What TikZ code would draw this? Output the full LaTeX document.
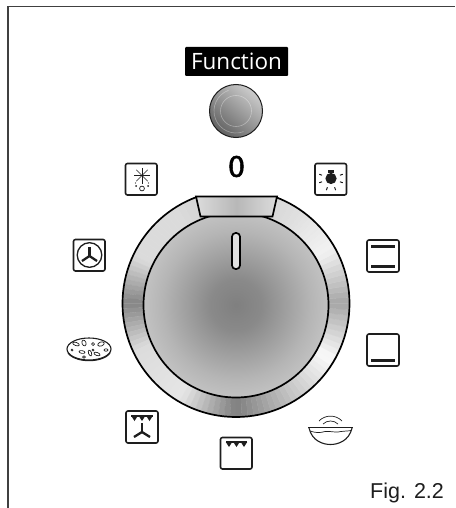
\documentclass[tikz,border=0pt]{standalone}
\usepackage{fontspec}
\setmainfont{Liberation Sans}
\newfontfamily\labelfont{Open Sans}
\newfontfamily\zerofont[FakeBold=1.2]{Fira Sans}
\definecolor{ink}{HTML}{1E1E1E}
\pgfdeclareradialshading{discshade}{\pgfpointorigin}{
  color(0bp)=(black!50); color(7bp)=(black!46); color(20bp)=(black!29);
  color(35bp)=(black!14); color(50bp)=(black!6); color(100bp)=(black!6)}
\tikzset{
  iconbox/.style={draw=ink,line width=1.6pt,rounded corners=2pt,fill=white},
  dialline/.style={draw=black,line width=1.7pt},
  heatbar/.style={fill=ink,draw=none},
  thinline/.style={draw=ink,line width=0.7pt},
  fanarm/.style={draw=ink,line width=2.3pt},
}
\newcommand{\drawtri}[2]{\fill[ink] ({#1-3.2},#2) -- ({#1+3.2},#2) -- (#1,{#2+5}) -- cycle;}
\begin{document}
\begin{tikzpicture}[x=1pt,y=-1pt]
\useasboundingbox (0,0) rectangle (455,508);
% frame
\draw[draw=black!75,line width=1.6pt] (8,508) -- (8,6.5) -- (455,6.5);

% Function label
\node[fill=black,rounded corners=1pt,minimum width=103pt,minimum height=29pt,inner sep=0pt,
  text=white,font=\labelfont\fontsize{22.5}{22.5}\selectfont] (fn) at (236.5,61.5) {Function};

% small knob
\shade[left color=black!20,right color=black!62,shading angle=-40] (236,111) circle (26.5);
\draw[white,line width=0.6pt,opacity=.35] (236,111) circle (15.5);
\draw[white,line width=0.6pt,opacity=.35] (236,111) ++(70:22) arc (70:250:22);
\draw[ink,line width=1pt] (236,111) circle (26.5);

% ring with metallic shading (angles counted counter-clockwise on the page)
\foreach \aa/\ga/\ab/\gb in {
  0/35/30/5, 30/5/55/12, 55/12/90/20, 90/20/125/14, 125/14/155/14, 155/14/180/48,
  180/48/205/14, 205/14/240/10, 240/10/270/50, 270/50/300/24, 300/24/330/2, 330/2/360/35}{
  \foreach \i in {0,...,9}{
    \pgfmathsetmacro{\ta}{\aa+(\ab-\aa)*\i/10}
    \pgfmathsetmacro{\tb}{\aa+(\ab-\aa)*(\i+1)/10}
    \pgfmathsetmacro{\gv}{\ga+(\gb-\ga)*(\i+.5)/10}
    \fill[black!\gv,draw=black!\gv,line width=.3pt] (236,303.5) -- ({236+113.5*cos(\ta)},{303.5-113.5*sin(\ta)}) arc ({-\ta}:{-\tb}:113.5) -- cycle;
  }
}
\draw[dialline] (236,303.5) circle (113.5);
% part of the ring circle above the collar is not shown
\fill[white] (197,180) rectangle (276,196);
% disc
\shade[shading=discshade] (236,305) circle (92.5);
\draw[dialline] (236,305) circle (92.5);
% collar
\shade[left color=black!14,right color=black!14,middle color=black!28,shading angle=90] (196,196.5) -- (277,196.5) -- (272.5,216.5) -- (200.5,216.5) -- cycle;
\draw[dialline,line join=miter] (196,196.5) -- (277,196.5) -- (272.5,216.5) -- (200.5,216.5) -- cycle;
% slot
\draw[dialline,fill=black!12,rounded corners=3.6pt] (232,233) rectangle (240,269);

% zero
\node[font=\zerofont\fontsize{31}{31}\selectfont,inner sep=0pt] (zero) at (236.5,166.5) {0};

% star icon
\draw[iconbox] (125.5,163.5) rectangle (157,195);
\foreach \r in {0,45,...,315}{\draw[thinline] (142,175.5) -- ++(\r:8);}
\draw[thinline] (142,188.5) circle (2.4);
\fill[ink] (136,186) circle (1) (148,186) circle (1) (135.5,183) circle (.7) (148.5,183) circle (.7);

% lamp icon
\draw[iconbox] (315,163.5) rectangle (346.5,195);
\fill[ink] (331,178.5) circle (5.6);
\fill[ink] (328,170) rectangle (334,172.5);
\foreach \r in {-20,20,160,200,68,112}{\draw[ink,line width=1pt] (331,178.5) ++(\r:9.5) -- ++(\r:3);}

% fan icon
\draw[iconbox] (73.5,239.5) rectangle (105,271);
\draw[ink,line width=1.3pt] (89.5,255) circle (12.3);
\draw[fanarm] (89.5,256) -- (89.5,247);
\draw[fanarm] (89.5,256) -- (82,261);
\draw[fanarm] (89.5,256) -- (97,261);

% top and bottom heat
\draw[iconbox] (367,240) rectangle (399,272);
\fill[heatbar] (371,244.5) rectangle (395,247.5);
\fill[heatbar] (371,265) rectangle (395,268);

% bottom heat
\draw[iconbox] (367,334) rectangle (399,366);
\fill[heatbar] (371,359) rectangle (395,362);

% top heat
\draw[iconbox] (220.5,437.5) rectangle (252,469);
\fill[ink] (226,441) rectangle (247,442.5);
\drawtri{229}{442}\drawtri{236.5}{442}\drawtri{244}{442}

% fan + top heat
\draw[iconbox] (126,411) rectangle (158,443);
\fill[ink] (131,415) rectangle (153,416.5);
\drawtri{134.5}{416}\drawtri{142}{416}\drawtri{149.5}{416}
\draw[fanarm] (142,432) -- (142,423);
\draw[fanarm] (142,432) -- (134,437);
\draw[fanarm] (142,432) -- (150,437);

% grill icon
\draw[ink,line width=1.3pt] (308,427.5) -- (353,427.5);
\draw[ink,line width=1.1pt] (309,428) .. controls (312,441) and (323,444.5) .. (330.5,444.5) .. controls (338,444.5) and (349,441) .. (352,428);
\draw[thinline] (310,431) .. controls (316,433) and (320,433) .. (325,431.5) .. controls (331,431) and (337,433) .. (341,431.5) .. controls (345,431) and (349,431) .. (351,430.5);
\draw[ink,line width=.7pt] (319,421) .. controls (325,414.5) and (336,414.5) .. (342,421);
\draw[ink,line width=.7pt] (323,424) .. controls (327,420) and (334,420) .. (338,424);

% pizza icon
\draw[ink,line width=1.1pt] (89,349) ellipse (22 and 11);
\draw[ink,line width=1.1pt] (89,349.7) ++(15:22 and 11) arc (15:165:22 and 11);
\foreach \x/\y/\rx/\ry/\rr in {76/344/3.5/1.6/-20, 84/343/2/3/20, 93/344/1.5/1.5/0, 101/344/3.4/2/20, 82/352/3/1.4/-10, 90/353/1.5/3/20, 97/354/3.2/1.5/-20, 106/350/2/1.2/0, 84/357/1.5/1.2/0, 93/350/1/1/0, 72/350/1/1/0}{
  \draw[ink,line width=.7pt,rotate around={\rr:(\x,\y)}] (\x,\y) ellipse (\rx pt and \ry pt);
}

% caption
\node[anchor=base west,inner sep=0pt,font=\fontsize{21.5}{21.5}\selectfont,text=ink] (fig) at (370,498) {Fig. 2.2};
\end{tikzpicture}
\end{document}
